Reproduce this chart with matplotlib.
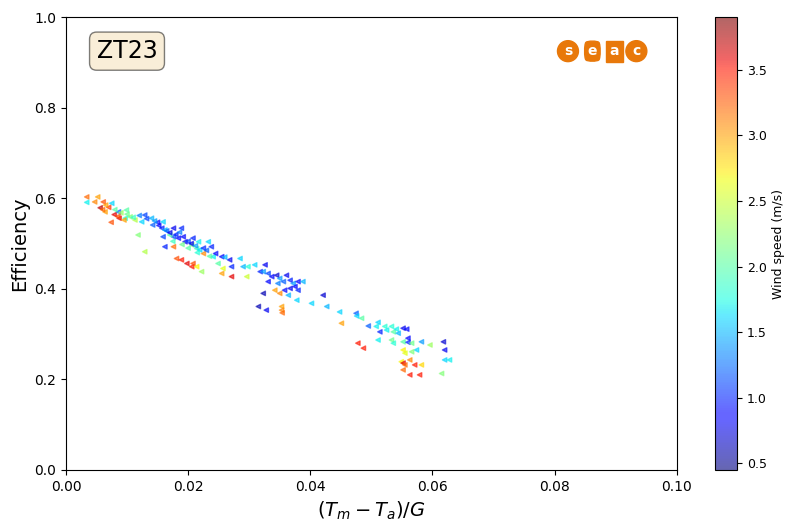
import numpy as np
import matplotlib
matplotlib.use("Agg")
import matplotlib.pyplot as plt

# (Tm - Ta)/G, efficiency, wind speed (m/s)
x_red = [0.0034, 0.0034, 0.0052, 0.0047, 0.0056, 0.0061, 0.0064, 0.0075, 0.0079, 0.0086,
         0.0087, 0.0074, 0.0099, 0.0105, 0.0097, 0.0113, 0.0129, 0.0124, 0.0140, 0.0142,
         0.0118, 0.0129, 0.0150, 0.0157, 0.0159,
         0.0159, 0.0162, 0.0176, 0.0189, 0.0176, 0.0170, 0.0184, 0.0195, 0.0208, 0.0206,
         0.0176, 0.0162, 0.0214, 0.0225, 0.0219, 0.0217, 0.0233, 0.0238, 0.0181, 0.0189,
         0.0198, 0.0206, 0.0208, 0.0214, 0.0222, 0.0241, 0.0255, 0.0249, 0.0257, 0.0268,
         0.0271, 0.0255, 0.0271, 0.0285, 0.0290,
         0.0298, 0.0296, 0.0309, 0.0318, 0.0326, 0.0323, 0.0331, 0.0337, 0.0331, 0.0345,
         0.0350, 0.0347, 0.0356, 0.0361, 0.0367, 0.0372, 0.0380, 0.0388, 0.0367, 0.0358,
         0.0375, 0.0380, 0.0342, 0.0350, 0.0364, 0.0378, 0.0323, 0.0402, 0.0421, 0.0427,
         0.0315, 0.0328, 0.0353, 0.0353, 0.0354,
         0.0448, 0.0451, 0.0475, 0.0476, 0.0484, 0.0495, 0.0511, 0.0508, 0.0514, 0.0522,
         0.0525, 0.0533, 0.0536, 0.0541, 0.0544, 0.0552, 0.0558, 0.0511, 0.0533, 0.0536,
         0.0552, 0.0560, 0.0560, 0.0566, 0.0582, 0.0596, 0.0618, 0.0620, 0.0574, 0.0552,
         0.0555, 0.0566, 0.0563, 0.0549, 0.0552, 0.0555, 0.0571, 0.0582, 0.0552, 0.0563,
         0.0579, 0.0620, 0.0628, 0.0615, 0.0478, 0.0487,
         0.0120, 0.0132, 0.0145, 0.0152, 0.0165, 0.0170, 0.0180, 0.0186, 0.0192, 0.0200,
         0.0205, 0.0212, 0.0225, 0.0230, 0.0245, 0.0260, 0.0175, 0.0190, 0.0200, 0.0215,
         0.0235, 0.0110, 0.0100, 0.0090, 0.0080, 0.0070, 0.0065, 0.0060, 0.0085, 0.0095]
eff = [0.603, 0.591, 0.603, 0.592, 0.579, 0.592, 0.570, 0.589, 0.564, 0.570,
       0.556, 0.547, 0.574, 0.559, 0.556, 0.552, 0.563, 0.548, 0.556, 0.541,
       0.519, 0.482, 0.547, 0.534, 0.515,
       0.548, 0.530, 0.534, 0.534, 0.515, 0.519, 0.512, 0.504, 0.512, 0.497,
       0.493, 0.493, 0.489, 0.478, 0.486, 0.504, 0.504, 0.493, 0.467, 0.464,
       0.456, 0.449, 0.456, 0.449, 0.438, 0.471, 0.471, 0.456, 0.445, 0.464,
       0.449, 0.434, 0.427, 0.467, 0.449,
       0.449, 0.427, 0.453, 0.438, 0.453, 0.438, 0.434, 0.427, 0.416, 0.430,
       0.423, 0.412, 0.416, 0.430, 0.419, 0.412, 0.416, 0.416, 0.401, 0.397,
       0.405, 0.397, 0.397, 0.390, 0.386, 0.375, 0.390, 0.368, 0.386, 0.361,
       0.361, 0.353, 0.361, 0.353, 0.347,
       0.349, 0.324, 0.346, 0.340, 0.335, 0.318, 0.326, 0.317, 0.305, 0.317,
       0.309, 0.317, 0.305, 0.311, 0.302, 0.313, 0.311, 0.287, 0.287, 0.280,
       0.283, 0.291, 0.282, 0.280, 0.283, 0.276, 0.283, 0.265, 0.265, 0.265,
       0.258, 0.261, 0.243, 0.239, 0.236, 0.232, 0.232, 0.232, 0.221, 0.210,
       0.210, 0.243, 0.243, 0.213, 0.280, 0.269,
       0.562, 0.555, 0.550, 0.540, 0.528, 0.524, 0.520, 0.525, 0.515, 0.505,
       0.500, 0.495, 0.490, 0.485, 0.478, 0.470, 0.505, 0.498, 0.490, 0.480,
       0.472, 0.558, 0.565, 0.568, 0.575, 0.580, 0.585, 0.575, 0.560, 0.552]
wind = [3.2, 1.7, 3.0, 3.1, 3.7, 3.3, 3.0, 1.6, 3.6, 1.2,
        3.6, 3.3, 2.0, 2.2, 1.8, 2.4, 1.1, 1.6, 1.5, 1.2,
        2.2, 2.4, 0.9, 1.0, 1.1,
        1.6, 1.5, 0.8, 1.0, 1.1, 2.0, 0.9, 0.8, 1.0, 2.2,
        3.2, 1.0, 1.9, 3.1, 1.6, 1.7, 1.6, 1.0, 3.3, 3.5,
        3.6, 3.5, 3.3, 2.7, 2.3, 1.7, 0.9, 2.0, 2.6, 0.8,
        1.0, 3.0, 3.6, 1.6, 1.5,
        1.8, 2.5, 1.6, 1.0, 0.8, 1.4, 1.1, 0.9, 0.9, 0.7,
        1.4, 1.3, 1.2, 0.8, 1.0, 1.4, 0.9, 1.5, 0.8, 0.9,
        0.9, 1.0, 3.0, 3.1, 1.5, 1.6, 0.6, 1.6, 0.7, 1.5,
        0.6, 0.8, 3.0, 3.1, 3.2,
        1.6, 3.0, 1.2, 1.6, 2.0, 1.2, 1.6, 1.7, 1.0, 1.8,
        1.7, 1.8, 2.0, 1.7, 1.5, 0.8, 0.9, 1.7, 2.1, 1.8,
        2.0, 0.9, 1.0, 2.1, 1.4, 2.3, 0.7, 0.8, 1.6, 2.7,
        2.6, 2.2, 3.1, 2.7, 3.6, 3.2, 3.5, 2.8, 3.2, 3.5,
        3.5, 1.6, 1.7, 2.2, 3.5, 3.5,
        1.3, 1.1, 1.4, 0.9, 1.2, 0.8, 1.0, 1.3, 0.9, 1.1,
        0.8, 1.4, 1.0, 1.2, 0.9, 1.5, 1.9, 2.1, 2.0, 1.8,
        2.0, 1.9, 2.1, 2.3, 2.0, 3.4, 3.0, 3.2, 3.3, 3.0]

fig = plt.figure(figsize=(7.85, 5.21), dpi=100)
ax = fig.add_axes([0.084, 0.098, 0.778, 0.869])
cax = fig.add_axes([0.911, 0.098, 0.028, 0.869])

sc = ax.scatter(x_red, eff, c=wind, cmap="jet", vmin=0.45, vmax=3.9,
                marker="<", s=10, alpha=0.6)
cb = fig.colorbar(sc, cax=cax)
cb.set_label("Wind speed (m/s)", fontsize=9)
cb.set_ticks([0.5, 1.0, 1.5, 2.0, 2.5, 3.0, 3.5])
cb.ax.tick_params(labelsize=9)

ax.set_xlim(0, 0.10)
ax.set_ylim(0, 1.0)
ax.set_xlabel("$(T_m - T_a)/G$", fontsize=14)
ax.set_ylabel("Efficiency", fontsize=14)

ax.text(0.10, 0.925, "ZT23", transform=ax.transAxes, fontsize=17,
        ha="center", va="center",
        bbox=dict(boxstyle="round", facecolor="wheat", alpha=0.5))

# seac logo, rough version
orange = "#e8780a"
logo = [("s", 0.822, "circle"), ("e", 0.862, "round4"), ("a", 0.898, "square"), ("c", 0.934, "circle")]
for ch, xpos, style in logo:
    ax.text(xpos, 0.925, ch, transform=ax.transAxes, fontsize=10, fontweight="bold",
            color="white", ha="center", va="center",
            bbox=dict(boxstyle=style + ",pad=0.25", facecolor=orange, edgecolor=orange))

fig.savefig("out.png", dpi=100)
